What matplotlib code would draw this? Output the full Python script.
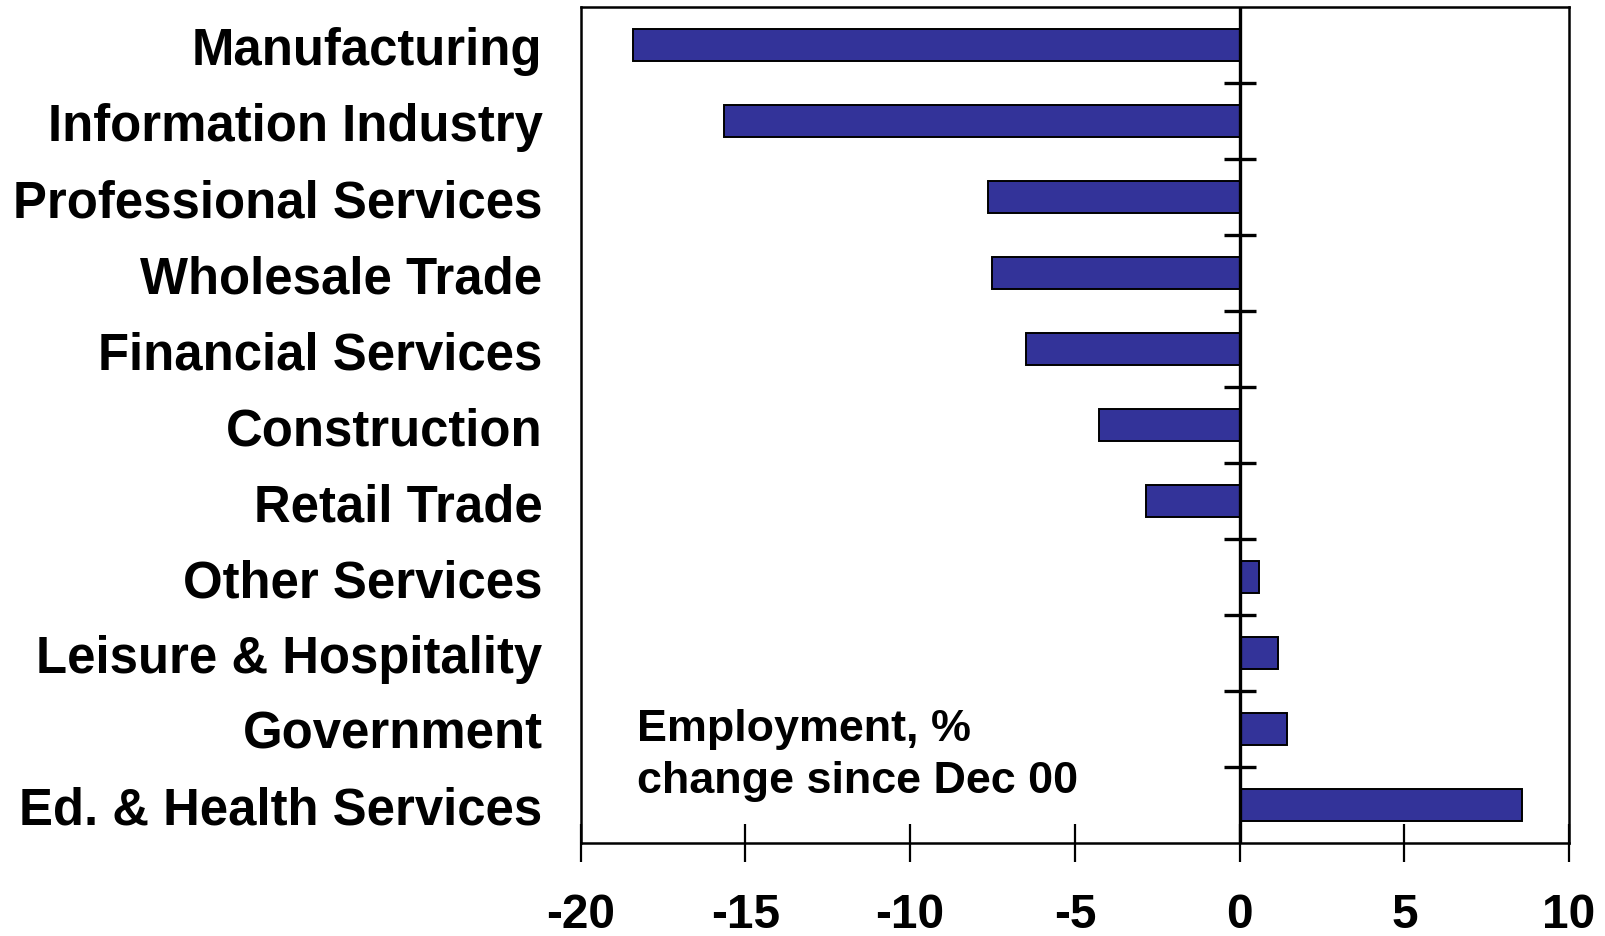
import matplotlib
matplotlib.use("Agg")
import matplotlib.pyplot as plt
import numpy as np

categories = ["Manufacturing", "Information Industry", "Professional Services",
              "Wholesale Trade", "Financial Services", "Construction", "Retail Trade",
              "Other Services", "Leisure & Hospitality", "Government", "Ed. & Health Services"]
values = [-18.4, -15.65, -7.65, -7.53, -6.47, -4.26, -2.85, 0.6, 1.16, 1.44, 8.56]
xticks = [-20, -15, -10, -5, 0, 5, 10]
annotation = "Employment, %\nchange since Dec 00"

plt.rcParams['font.family'] = ['Liberation Sans', 'DejaVu Sans']
plt.rcParams['font.weight'] = 'bold'

fig = plt.figure(figsize=(16.06, 9.37), dpi=100)
ax = fig.add_axes([0.3616, 0.0993, 0.977 - 0.3616, 0.9912 - 0.0993])

pos = np.arange(len(categories))
ax.barh(pos, values, height=0.42, color="#333399", edgecolor="black", linewidth=1.4, zorder=2)

ax.set_ylim(len(categories) - 0.5, -0.5)
ax.set_xlim(xticks[0], xticks[-1])

ax.axvline(0, color="black", linewidth=2.4, zorder=3)
bounds = pos[:-1] + 0.5
ax.plot(np.zeros_like(bounds), bounds, linestyle="none", marker="_", markersize=23,
        markeredgewidth=2.4, color="black", zorder=3, clip_on=False)

ax.set_yticks(pos)
ax.set_yticklabels(categories, fontsize=36.6, fontweight="bold")
ax.tick_params(axis="y", length=0, pad=27.5)

ax.set_xticks(xticks)
ax.set_xticklabels([str(t) for t in xticks], fontsize=34.5, fontweight="bold")
ax.tick_params(axis="x", direction="inout", length=28, width=1.6, pad=21.5)

for s in ax.spines.values():
    s.set_linewidth(1.8)

ax.text(-18.3, 8.72, annotation, fontsize=32.3, fontweight="bold", va="top", ha="left",
        linespacing=1.36)

fig.savefig("out.png", dpi=100)
